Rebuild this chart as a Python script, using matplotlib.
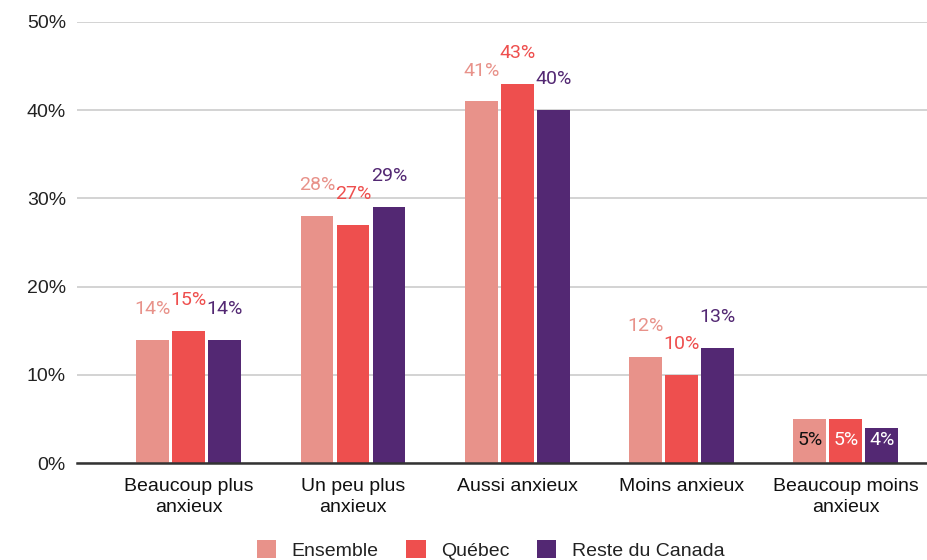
import matplotlib.pyplot as plt
import numpy as np

categories = ["Beaucoup plus\nanxieux", "Un peu plus\nanxieux", "Aussi anxieux",
              "Moins anxieux", "Beaucoup moins\nanxieux"]
series = ["Ensemble", "Québec", "Reste du Canada"]
ensemble = [14, 28, 41, 12, 5]
quebec = [15, 27, 43, 10, 5]
reste = [14, 29, 40, 13, 4]
colors = ["#E8928A", "#EE4F4E", "#532873"]
yticks = [0, 10, 20, 30, 40, 50]

fig = plt.figure(figsize=(9.28, 5.6), dpi=100)
ax = fig.add_axes([77 / 928, 1 - 463 / 560, 1 - 77 / 928, (463 - 22) / 560])

x = np.arange(len(categories))
width, step = 0.2, 0.219
for i, (name, vals, col) in enumerate(zip(series, [ensemble, quebec, reste], colors)):
    xs = x + (i - 1) * step
    ax.bar(xs, vals, width=width, color=col, label=name, zorder=3)
    for xi, v in zip(xs, vals):
        if v >= 8:
            ax.text(xi, v + 3.5, f"{v}%", ha="center", va="center", color=col,
                    fontsize=14, family=["Roboto", "DejaVu Sans"])
        else:
            # small bars: value written inside the bar
            tc = "#111111" if i == 0 else "white"
            ax.text(xi, 2.6, f"{v}%", ha="center", va="center", color=tc,
                    fontsize=14, family=["Roboto", "DejaVu Sans"], zorder=4)

ax.set_xlim(-0.68, 4.5)
ax.set_ylim(0, 50)
ax.set_yticks(yticks)
ax.set_yticklabels([f"{t}%" for t in yticks], fontsize=14,
                   family=["Liberation Sans", "DejaVu Sans"], color="#222222")
ax.set_xticks(x)
ax.set_xticklabels(categories, fontsize=14, family=["Liberation Sans", "DejaVu Sans"],
                   color="#111111", linespacing=1.26)
ax.tick_params(length=0, axis="both")
ax.tick_params(axis="y", pad=8)
ax.tick_params(axis="x", pad=11)
ax.grid(axis="y", color="#cccccc", lw=1.2, zorder=0)
for s in ["top", "right", "left"]:
    ax.spines[s].set_visible(False)
ax.spines["bottom"].set_color("#333333")
ax.spines["bottom"].set_linewidth(1.8)
ax.spines["bottom"].set_zorder(5)

leg = ax.legend(loc="center", bbox_to_anchor=(0.486, -0.197), ncol=3, frameon=False,
                prop={"family": ["Liberation Sans", "DejaVu Sans"], "size": 14},
                handlelength=1.0, handleheight=1.0, columnspacing=1.4, handletextpad=0.8)
for t in leg.get_texts():
    t.set_color("#222222")

fig.savefig("out.png", dpi=100)
